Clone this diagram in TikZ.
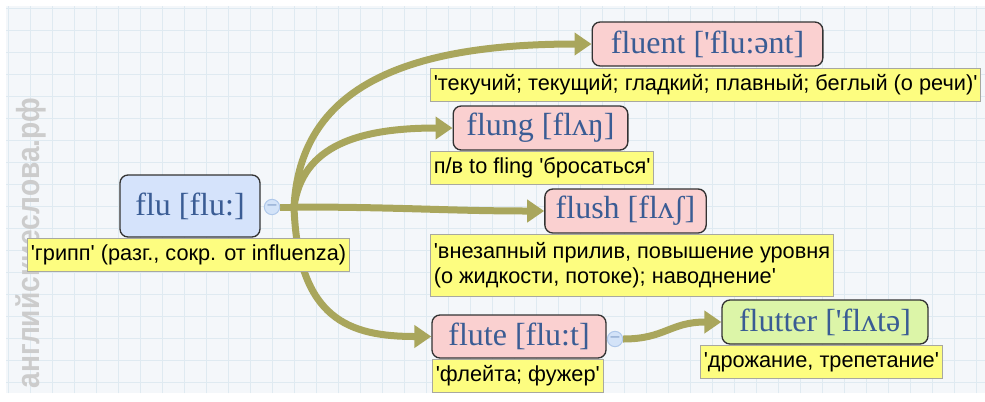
\documentclass[tikz,border=0pt]{standalone}
\usepackage{fontspec}
\setmainfont{Liberation Sans}
\newfontfamily\wordfont{Liberation Serif}[Ligatures=TeXOff]
\newfontfamily\deffont{Liberation Sans}[Ligatures=TeXOff]
\usepackage{tikz}
\usetikzlibrary{positioning, arrows.meta, backgrounds}

\definecolor{wordtext}{HTML}{3A5C94}
\definecolor{rootfill}{HTML}{D5E3FB}
\definecolor{wordfill}{HTML}{FAD0D0}
\definecolor{leaffill}{HTML}{DCF5A8}
\definecolor{deffill}{HTML}{FDFD80}
\definecolor{defline}{HTML}{A8A8A0}
\definecolor{linkolive}{HTML}{A9A65C}
\definecolor{knobfill}{HTML}{D3E3F8}
\definecolor{knobline}{HTML}{AFC8EA}
\definecolor{knobdash}{HTML}{7F9CC6}
\definecolor{paper}{HTML}{F4F7FA}
\definecolor{gridline}{HTML}{DFEAF1}

\begin{document}
\begin{tikzpicture}[
    x=0.75pt, y=-0.75pt,
    word/.style={
        rectangle, rounded corners=6pt,
        draw=black!80, line width=1pt,
        minimum height=33pt, inner sep=2pt,
        font=\wordfont\fontsize{24}{28}\selectfont, text=wordtext
    },
    gloss/.style={
        rectangle, anchor=north west,
        draw=defline, line width=0.75pt, fill=deffill,
        minimum height=24.75pt, inner xsep=2.5pt, inner ysep=3pt,
        font=\deffont\fontsize{16.3}{19}\selectfont, text=black, align=left
    },
    knob/.style={
        circle, draw=knobline, fill=knobfill, line width=0.75pt,
        minimum size=11.5pt, inner sep=0pt,
        font=\fontsize{12}{12}\selectfont, text=knobdash
    },
    watermark/.style={
        font=\bfseries\fontsize{24}{24}\selectfont, text=black!20
    },
    link/.style={line width=5.25pt, linkolive, -{Triangle[length=12.75pt, width=16.5pt]}},
    stem/.style={line width=5.25pt, linkolive}
]
\useasboundingbox (0,0) rectangle (985,401);

% === Root word ===
\node[word, fill=rootfill, minimum width=105pt, minimum height=46.5pt] (flu) at (190,206)
    {flu [flu:]};
\node[gloss] (fludef) at (27,238) {'грипп' (разг., сокр. от influenza)};
\node[knob] (fluknob) at (272,207) {--};
\coordinate (fork) at (294,207);

% === Derived words ===
\node[word, fill=wordfill, minimum width=173pt] (fluent) at (707.5,44)
    {fluent ['flu:ənt]};
\node[gloss] (fluentdef) at (430,68)
    {'текучий; текущий; гладкий; плавный; беглый (о речи)'};

\node[word, fill=wordfill, minimum width=131pt] (flung) at (540.5,128)
    {flung [flʌŋ]};
\node[gloss] (flungdef) at (430,151) {п/в to fling 'бросаться'};

\node[word, fill=wordfill, minimum width=121pt] (flush) at (625.5,211)
    {flush [flʌʃ]};
\node[gloss, minimum height=46.5pt] (flushdef) at (430,234)
    {'внезапный прилив, повышение уровня\\(о жидкости, потоке); наводнение'};

\node[word, fill=wordfill, minimum width=130.5pt, minimum height=32.25pt] (flute) at (519,336.5)
    {flute [flu:t]};
\node[gloss] (flutedef) at (432,359) {'флейта; фужер'};
\node[knob] (fluteknob) at (615,339) {--};

% flutter hangs off flute
\node[word, fill=leaffill, minimum width=154.5pt] (flutter) at (825,322)
    {flutter ['flʌtə]};
\node[gloss] (flutterdef) at (700,345) {'дрожание, трепетание'};

% === Paper, grid and links (behind the boxes) ===
\begin{scope}[on background layer]
    \fill[white] (0,0) rectangle (985,401);
    \fill[paper] (6,6) rectangle (985,393);
    \draw[gridline, line width=0.75pt, step=16.5pt, shift={(8,8)}] (-2,-2) grid (977,385);
    \node[watermark, rotate=90] (site) at (31,243) {\scalebox{0.88}[1]{английскиеслова.рф}};

    \draw[stem] (fluknob.east) -- (fork);
    \draw[link] (fork) .. controls (300,90) and (400,44) .. (fluent.west);
    \draw[link] (fork) .. controls (302,145) and (360,128) .. (flung.west);
    \draw[link] (fork) .. controls (400,207) and (450,211) .. (flush.west);
    \draw[link] (fork) .. controls (298,320) and (350,336.5) .. (flute.west);
    \draw[link] (fluteknob.east) .. controls (665,339) and (670,322) .. (flutter.west);
\end{scope}

\end{tikzpicture}
\end{document}
